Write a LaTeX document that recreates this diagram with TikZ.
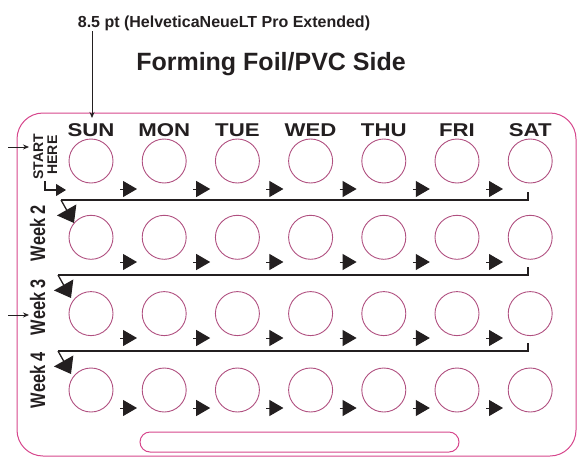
\documentclass[tikz,border=0pt]{standalone}
\usepackage{fontspec}
\setmainfont{Liberation Sans}
\newfontfamily\extfont{Liberation Sans}[FakeStretch=1.2]
\newfontfamily\condfont{Liberation Sans}[FakeStretch=0.78]
\usetikzlibrary{arrows.meta}
\definecolor{ink}{RGB}{35,31,32}
\definecolor{blister}{RGB}{176,80,128}
\definecolor{cardedge}{RGB}{214,70,140}
\begin{document}
\begin{tikzpicture}[x=1pt,y=-1pt,
  blisterc/.style={circle, draw=blister, line width=0.9pt, minimum size=44pt, inner sep=0pt},
  day/.style={font=\extfont\bfseries\fontsize{18.5}{18.5}\selectfont, text=ink, anchor=base},
  week/.style={font=\condfont\bfseries\fontsize{21}{21}\selectfont, text=ink, anchor=base, rotate=90},
  start/.style={font=\bfseries\fontsize{14}{14}\selectfont, text=ink, anchor=base, rotate=90},
  conn/.style={draw=ink, line width=1.3pt},
  bigarrow/.style={conn, -{Triangle[length=15pt,width=22pt]}},
  smallarrow/.style={draw=ink, line width=1pt, -{Triangle[length=14pt,width=16pt]}},
  lead/.style={draw=ink, line width=0.8pt, -{Stealth[length=6pt,width=5pt]}}
]
\useasboundingbox (0,0) rectangle (577,458);
% card outline
\draw[cardedge, line width=1pt, rounded corners=26pt] (17,113) rectangle (576,456);
\draw[cardedge, line width=1pt, rounded corners=10pt] (140,432) rectangle (459,452);
% titles
\node[font=\bfseries\fontsize{16}{16}\selectfont, text=ink, anchor=base] (spec) at (224,27) {8.5 pt (HelveticaNeueLT Pro Extended)};
\node[font=\bfseries\fontsize{25}{25}\selectfont, text=ink, anchor=base] (title) at (271,70) {Forming Foil/PVC Side};
% day labels and circles
\foreach \d [count=\k from 0] in {SUN,MON,TUE,WED,THU,FRI,SAT}{
  \node[day] (day\k) at ({91+73.2*\k},136) {\d};
  \foreach \r/\cy in {1/161,2/237.3,3/313.6,4/390}{
    \node[blisterc] (c\r-\k) at ({91+73.2*\k},\cy) {};
  }
}
% small arrows between circles
\foreach \r/\ay in {1/189,2/262,3/338,4/408}{
  \foreach \k in {0,...,5}{
    \coordinate (t\r-\k) at ({137+73.2*\k-17},\ay);
    \coordinate (h\r-\k) at ({137+73.2*\k},\ay);
    \draw[smallarrow] (t\r-\k) -- (h\r-\k);
  }
}
% start here
\node[start] (startlbl) at (43,157) {START};
\node[start] (herelbl) at (57,155) {HERE};
\coordinate (bentA) at (45,181);
\coordinate (bentB) at (45,190);
\coordinate (bentC) at (66,190);
\draw[draw=ink, line width=1.1pt, -{Triangle[length=10pt,width=12pt]}] (bentA) -- (bentB) -- (bentC);
% week labels
\node[week] (w2) at (45,233) {Week 2};
\node[week] (w3) at (45,307) {Week 3};
\node[week] (w4) at (45,380) {Week 4};
% row connectors
\foreach \r/\ly/\lx in {1/200/61,2/275/58,3/351/58}{
  \coordinate (ra\r) at (528,{\ly-8});
  \coordinate (rb\r) at (528,\ly);
  \coordinate (rc\r) at (\lx,\ly);
  \coordinate (rd\r) at ({\lx+13},{\ly+23});
  \draw[conn] (ra\r) -- (rb\r) -- (rc\r);
  \draw[bigarrow] (rc\r) -- (rd\r);
}
% leader arrows
\coordinate (specfoot) at (92,31);
\coordinate (suntop) at (92,118);
\draw[lead] (specfoot) -- (suntop);
\coordinate (la1) at (8,147);
\coordinate (lb1) at (29,147);
\draw[lead] (la1) -- (lb1);
\coordinate (la2) at (8,315);
\coordinate (lb2) at (29,315);
\draw[lead] (la2) -- (lb2);
\end{tikzpicture}
\end{document}
